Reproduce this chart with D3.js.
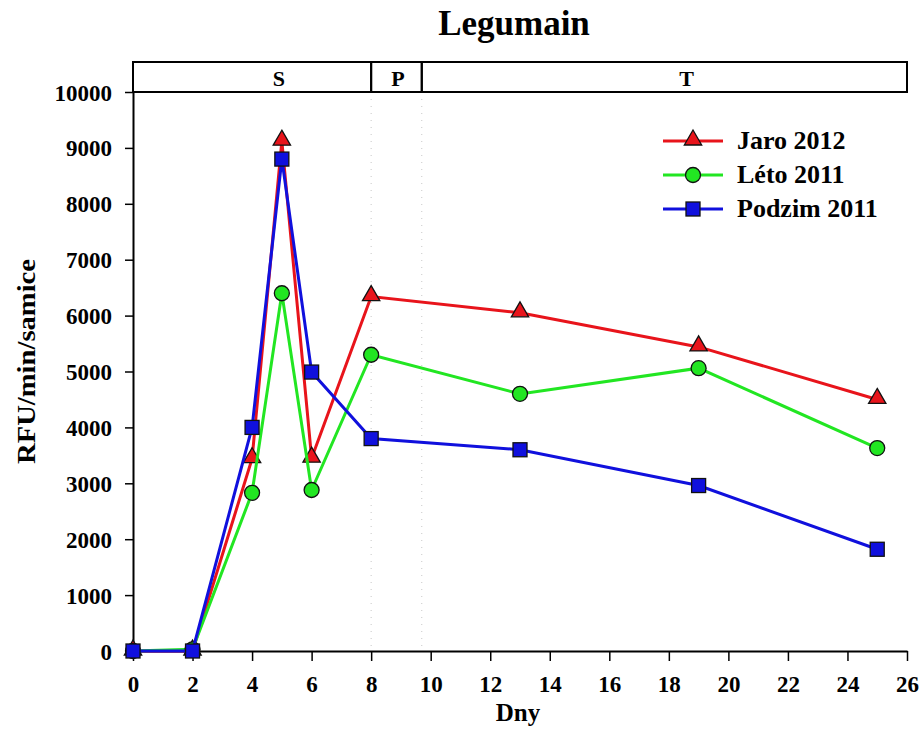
<!DOCTYPE html>
<html>
<head>
<meta charset="utf-8">
<title>Legumain</title>
<script src="https://cdn.jsdelivr.net/npm/d3@7/dist/d3.min.js"></script>
<style>
  body { margin: 0; background: #fff; }
  svg text { font-family: "Liberation Serif", "Times New Roman", serif; font-weight: bold; fill: #000; }
</style>
</head>
<body>
<script>
var days = [0, 2, 4, 5, 6, 8, 13, 19, 25];
var jaro2012 = [0, 0, 3440, 9120, 3450, 6340, 6050, 5440, 4500];
var leto2011 = [0, 30, 2830, 6400, 2880, 5300, 4600, 5060, 3630];
var podzim2011 = [0, 0, 4000, 8800, 4990, 3800, 3600, 2960, 1820];
var xTicks = d3.range(0, 27, 2);
var yTicks = d3.range(0, 10001, 1000);
var phases = [{name: "S", from: 0, to: 8, label: 4.9}, {name: "P", from: 8, to: 9.7, label: 8.9}, {name: "T", from: 9.7, to: 26, label: 18.6}];

var series = [
  {name: "Jaro 2012", values: jaro2012, color: "#e8141b", symbol: "tri"},
  {name: "Léto 2011", values: leto2011, color: "#22e622", symbol: "circ"},
  {name: "Podzim 2011", values: podzim2011, color: "#1010dd", symbol: "sq"}
];

var W = 920, H = 751,
    plotL = 133, plotR = 907, plotT = 92, plotB = 651, bandT = 62;

var svg = d3.select("body").append("svg")
  .attr("width", W).attr("height", H);

var x = d3.scaleLinear().domain([0, 26]).range([plotL, plotR]);
var y = d3.scaleLinear().domain([0, 10000]).range([plotB, plotT]);

// title
svg.append("text").attr("x", 514).attr("y", 35)
  .attr("text-anchor", "middle").style("font-size", "35px").text("Legumain");

// dotted phase boundaries
svg.selectAll(".div").data([8, 9.7]).enter().append("line")
  .attr("x1", function(d) { return x(d); }).attr("x2", function(d) { return x(d); })
  .attr("y1", plotT).attr("y2", plotB)
  .attr("stroke", "#c8c8c8").attr("stroke-width", 1).attr("stroke-dasharray", "1,6");

// phase band
var band = svg.append("g");
band.selectAll("rect").data(phases).enter().append("rect")
  .attr("x", function(d) { return x(d.from); })
  .attr("width", function(d) { return x(d.to) - x(d.from); })
  .attr("y", bandT).attr("height", plotT - bandT)
  .attr("fill", "none").attr("stroke", "#000").attr("stroke-width", 2);
band.selectAll("text").data(phases).enter().append("text")
  .attr("x", function(d) { return x(d.label); })
  .attr("y", 86).attr("text-anchor", "middle")
  .style("font-size", "22px").text(function(d) { return d.name; });

// axes
var xAxis = svg.append("g").attr("transform", "translate(0," + plotB + ")")
  .call(d3.axisBottom(x).tickValues(xTicks).tickSize(10).tickPadding(15).tickSizeOuter(0));
var yAxis = svg.append("g").attr("transform", "translate(" + plotL + ",0)")
  .call(d3.axisLeft(y).tickValues(yTicks).tickFormat(d3.format("d")).tickSize(8).tickPadding(13).tickSizeOuter(0));
[xAxis, yAxis].forEach(function(a) {
  a.select(".domain").attr("stroke", "#000").attr("stroke-width", 2);
  a.selectAll(".tick line").attr("stroke", "#000").attr("stroke-width", 1.5);
  a.selectAll("text").style("font-size", "23px")
    .style("font-family", "'Liberation Serif', serif").style("font-weight", "bold").attr("fill", "#000");
});
yAxis.selectAll("text").attr("dy", "0.35em");

svg.append("text").attr("x", 518).attr("y", 721).attr("text-anchor", "middle")
  .style("font-size", "25px").text("Dny");
svg.append("text").attr("transform", "translate(35," + ((plotT + plotB) / 2 - 10) + ") rotate(-90)")
  .attr("text-anchor", "middle").style("font-size", "25px")
  .attr("textLength", 205).attr("lengthAdjust", "spacingAndGlyphs").text("RFU/min/samice");

function drawSymbol(g, type, color, cx, cy) {
  if (type === "tri") {
    g.append("path").attr("d", d3.symbol().type(d3.symbolTriangle).size(130)())
      .attr("transform", "translate(" + cx + "," + (cy - 1) + ")");
  } else if (type === "circ") {
    g.append("circle").attr("cx", cx).attr("cy", cy).attr("r", 7.5);
  } else {
    g.append("rect").attr("x", cx - 7).attr("y", cy - 7).attr("width", 14).attr("height", 14);
  }
  g.selectAll("*").attr("fill", color).attr("stroke", "#111").attr("stroke-width", 1.3);
}

var line = d3.line().x(function(d) { return x(d[0]); }).y(function(d) { return y(d[1]); });

series.forEach(function(s) {
  var pts = days.map(function(d, i) { return [d, s.values[i]]; });
  var g = svg.append("g");
  g.append("path").datum(pts).attr("d", line)
    .attr("fill", "none").attr("stroke", s.color).attr("stroke-width", 3);
  pts.forEach(function(p) {
    drawSymbol(g.append("g"), s.symbol, s.color, x(p[0]), y(p[1]));
  });
});

// legend
var legend = svg.append("g");
series.forEach(function(s, i) {
  var ly = 141 + i * 34;
  var lg = legend.append("g");
  lg.append("line").attr("x1", 663).attr("x2", 723).attr("y1", ly).attr("y2", ly)
    .attr("stroke", s.color).attr("stroke-width", 3);
  drawSymbol(lg.append("g"), s.symbol, s.color, 693, ly);
  lg.append("text").attr("x", 737).attr("y", ly + 8).style("font-size", "26px").text(s.name);
});
</script>
</body>
</html>
